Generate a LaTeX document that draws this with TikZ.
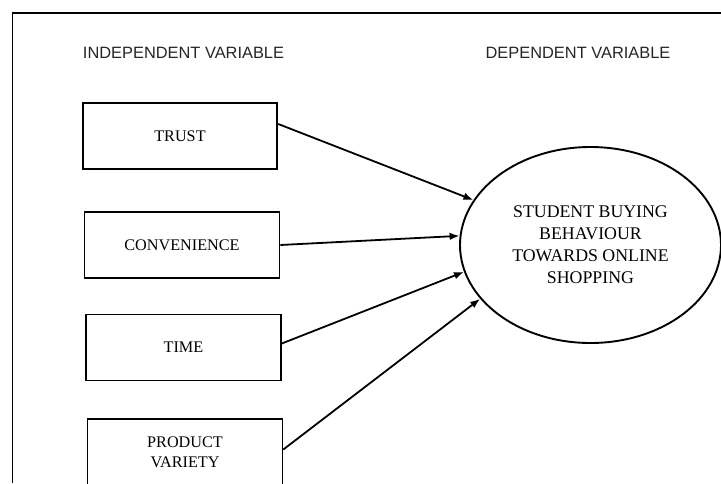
\documentclass[tikz,border=0pt]{standalone}
\usepackage{fontspec}
\setmainfont{Liberation Serif}
\newfontfamily\headfont{Liberation Sans}
\usetikzlibrary{shapes.geometric,arrows.meta}

\tikzset{
  frameline/.style={line width=1.8pt, black},
  heading/.style={font=\headfont\fontsize{16.4}{19}\selectfont, text=black!85, inner sep=0pt},
  varbox/.style={draw, rectangle, line width=1.6pt, minimum width=195pt, minimum height=66pt,
                 inner sep=0pt, align=center, font=\fontsize{16.2}{20}\selectfont},
  outcome/.style={draw, ellipse, line width=1.9pt, minimum width=261pt, minimum height=196pt,
                  inner sep=0pt, align=center, font=\fontsize{17.8}{22}\selectfont},
  link/.style={line width=1.8pt, -{Latex[length=10pt,width=7.5pt]}}
}

\begin{document}
\begin{tikzpicture}[x=1pt, y=-1pt]
  \useasboundingbox (0,0) rectangle (721,483);
  \clip (0,0) rectangle (721,483);
  \fill[white] (0,0) rectangle (721,483);

  % page frame (top and left edges)
  \draw[frameline] (12.5,483) -- (12.5,13) -- (721,13);

  % column headings
  \node[heading] (indep) at (183.5,53) {INDEPENDENT VARIABLE};
  \node[heading] (dep)   at (578,53)   {DEPENDENT VARIABLE};

  % independent variables
  \node[varbox, line width=2.4pt, minimum width=194pt] (trust) at (180,136) {TRUST};
  \node[varbox] (conv)  at (182,245)   {CONVENIENCE};
  \node[varbox] (time)  at (183.5,347.5) {TIME};
  \node[varbox] (prod)  at (185,452)   {PRODUCT\\VARIETY};

  % dependent variable
  \node[outcome] (buy) at (590.5,245)
    {STUDENT BUYING\\BEHAVIOUR\\TOWARDS ONLINE\\SHOPPING};

  % relationships
  \draw[link] ([yshift=12pt]trust.east) -- (buy.159.3);
  \draw[link] (conv.east)               -- (buy.176);
  \draw[link] ([yshift=4pt]time.east)   -- (buy.192.1);
  \draw[link] ([yshift=2.5pt]prod.east) -- (buy.206.9);
\end{tikzpicture}
\end{document}
